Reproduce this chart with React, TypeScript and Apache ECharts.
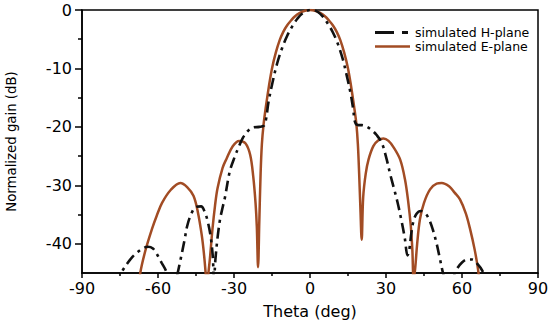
import React, { useEffect, useRef } from "react";
import * as echarts from "echarts";

const ePlaneTheta = [
  -68, -67, -65, -62.4, -60.5, -58.4, -55, -51.2, -48.5, -46, -44.3, -42.7, -41.8, -41.2, -40.7, -40.1, -39.5, -38.5,
  -37.5, -36.5, -34.5, -32.9, -30.5, -28, -25.5, -23.6, -22.4, -21.5, -21, -20.5, -20, -19.5, -19, -18.3, -17.4, -16.2,
  -15, -13.5, -12, -10.5, -9, -7.5, -6, -4, -2, 0, 2, 4, 6, 7.5, 9, 10.5, 12, 13.5, 15, 16.2, 17.4, 18.3, 18.9, 19.4,
  19.9, 20.4, 21, 22, 23.1, 25, 27, 29, 31, 33, 35.6, 37.5, 38.8, 39.8, 40.4, 40.9, 41.5, 42.3, 43.4, 45, 47.4, 50, 52,
  55, 57, 59.2, 61.5, 63.2, 65, 66.3, 67,
];
const ePlaneGain = [
  -49, -45, -41.2, -37.5, -35.2, -33, -30.8, -29.6, -30.3, -31.8, -34.5, -38.6, -42, -45, -48, -45, -42.5, -37.5,
  -33.5, -30.5, -27, -25.4, -23.3, -22.4, -22.8, -24.8, -28.5, -33, -37, -44, -36, -28, -23, -19.5, -16.5, -13,
  -10, -7.3, -5.2, -3.7, -2.6, -1.8, -1.1, -0.5, -0.12, 0, -0.12, -0.5, -1.1, -1.8, -2.6, -3.7, -5.2, -7.3, -10, -13, -16.5, -19.5, -23, -28,
  -34, -39.3, -32, -28, -25.6, -23.3, -22.3, -22, -22.4, -23.5, -25.6, -29, -32.9, -37, -41, -46, -44.3, -40, -35.8, -33, -30.7, -29.7, -29.6,
  -30.2, -31.2, -32.4, -34.8, -37.5, -41, -44.3, -47,
];

const hPlaneTheta = [
  -77, -74, -72, -70, -68, -66, -64, -62, -60.4, -58.5, -57, -55.5, -54, -52.5, -51, -49.5, -48.5, -47, -45, -43,
  -41.5, -40.3, -39.2, -38.4, -37.9, -37.3, -36.5, -35.5, -34.5, -33.5, -31.6, -29.6, -28, -26.4, -24.5, -22.5, -20,
  -18.2, -17.4, -16.4, -14.8, -13, -11, -9, -7, -5, -3, 0, 1, 3, 5, 7, 9, 11, 13, 14.6, 16, 17, 17.8, 19, 20.5, 22.5,
  24.5, 26.3, 28.4, 30.3, 31.6, 33, 34.5, 36, 37.4, 38.5, 39.2, 40, 40.8, 42, 43.8, 45.5, 47, 48.5, 50, 51.3, 52.5,
  54.5, 56.5, 58, 60, 62, 64, 66, 68, 69.5,
];
const hPlaneGain = [
  -47, -44.6, -43.3, -42.2, -41.4, -40.8, -40.5, -40.8, -41.8, -43.3, -44.5, -46.5, -48, -45.5, -42.5, -39.3, -37, -35, -33.7, -33.6,
  -34.6, -36.3, -38.8, -42, -46, -42.5, -39, -35.8, -33.8, -31.9, -27.5, -25, -23.3, -21.8, -20.7, -20.1, -20,
  -19.8, -18.8, -15.8, -12.4, -9.2, -6.5, -4.4, -2.8, -1.5, -0.6, 0, 0, -0.3, -1.1, -2.3, -3.8, -5.8, -8.5, -11.4, -14.2, -16.8, -19.2, -19.7, -19.7, -20,
  -20.6, -21.4, -22.8, -25.6, -28, -30.3, -32.8, -35.8, -39, -42, -41, -38.2, -36.2, -34.9, -34.4, -34.8, -35.8, -37.6, -40, -42.6, -45,
  -48, -45.8, -44.3, -43.2, -42.7, -42.7, -43.4, -44.6, -46.5,
];

const xTicks = [-90, -60, -30, 0, 30, 60, 90];
const yTicks = [0, -10, -20, -30, -40];
const yMinorTicks = [-5, -15, -25, -35];

const FONT = "DejaVu Sans";
const E_COLOR = "#a24c24";
const H_COLOR = "#111";

export default function App() {
  const ref = useRef<HTMLDivElement>(null);
  useEffect(() => {
    const chart = echarts.init(ref.current as HTMLDivElement, null, { renderer: "svg" });
    const zip = (a: number[], b: number[]) => a.map((v, i) => [v, b[i]]);
    const black = "#000";
    chart.setOption({
      animation: false,
      backgroundColor: "#fff",
      grid: {
        left: 82,
        right: 12,
        top: 10,
        bottom: 52,
        outerBoundsMode: "none",
        containLabel: false,
        show: true,
        borderColor: black,
        borderWidth: 1.5,
        backgroundColor: "transparent",
      },
      legend: {
        orient: "vertical",
        left: 375,
        top: 26,
        padding: 0,
        itemWidth: 35,
        itemHeight: 14,
        itemGap: 1,
        textStyle: { fontFamily: FONT, fontSize: 12.5, color: black },
        data: [
          {
            name: "simulated H-plane",
            icon: "path://M0,0h19v3h-19z M27,0h6v3h-6z M35,0h0.01v3h-0.01z",
            itemStyle: { color: H_COLOR },
          },
          {
            name: "simulated E-plane",
            icon: "path://M0,0h35v2.6h-35z",
            itemStyle: { color: E_COLOR },
          },
        ],
      },
      xAxis: {
        type: "value",
        min: xTicks[0],
        max: xTicks[xTicks.length - 1],
        interval: 30,
        name: "Theta (deg)",
        nameLocation: "middle",
        nameGap: 30,
        nameTextStyle: { fontFamily: FONT, fontSize: 16, color: black },
        axisLine: { show: true, onZero: false, lineStyle: { color: black, width: 1.5 } },
        axisTick: { show: true, length: 5, lineStyle: { color: black, width: 1.5 } },
        minorTick: { show: true, splitNumber: 2, length: 3, lineStyle: { color: black, width: 1.5 } },
        axisLabel: { margin: 7, fontFamily: FONT, fontSize: 16, color: black },
        splitLine: { show: false },
        minorSplitLine: { show: false },
      },
      yAxis: [
        {
          type: "value",
          min: -45,
          max: 0,
          position: "left",
          name: "Normalized gain (dB)",
          nameLocation: "middle",
          nameGap: 64,
          nameTextStyle: { fontFamily: FONT, fontSize: 13.3, color: black },
          axisLine: { show: true, onZero: false, lineStyle: { color: black, width: 1.5 } },
          axisTick: { show: true, length: 7, customValues: yTicks, lineStyle: { color: black, width: 1.5 } },
          axisLabel: { customValues: yTicks, margin: 10, fontFamily: FONT, fontSize: 16, color: black },
          splitLine: { show: false },
        },
        {
          type: "value",
          min: -45,
          max: 0,
          position: "left",
          axisLine: { show: false, onZero: false },
          axisTick: { show: true, length: 4, customValues: yMinorTicks, lineStyle: { color: black, width: 1.5 } },
          axisLabel: { show: false },
          splitLine: { show: false },
        },
      ],
      series: [
        {
          name: "simulated E-plane",
          type: "line",
          data: zip(ePlaneTheta, ePlaneGain),
          symbol: "none",
          smooth: 0.35,
          clip: true,
          z: 2,
          lineStyle: { color: E_COLOR, width: 2.5 },
          itemStyle: { color: E_COLOR },
        },
        {
          name: "simulated H-plane",
          type: "line",
          data: zip(hPlaneTheta, hPlaneGain),
          symbol: "none",
          smooth: 0.35,
          clip: true,
          z: 3,
          lineStyle: { color: H_COLOR, width: 2.6, type: [11, 5, 3, 5] },
          itemStyle: { color: H_COLOR },
        },
      ],
    });
    return () => chart.dispose();
  }, []);
  return (
    <div
      ref={ref}
      style={{ position: "fixed", left: 0, top: 0, width: 550, height: 325, background: "#fff" }}
    />
  );
}
